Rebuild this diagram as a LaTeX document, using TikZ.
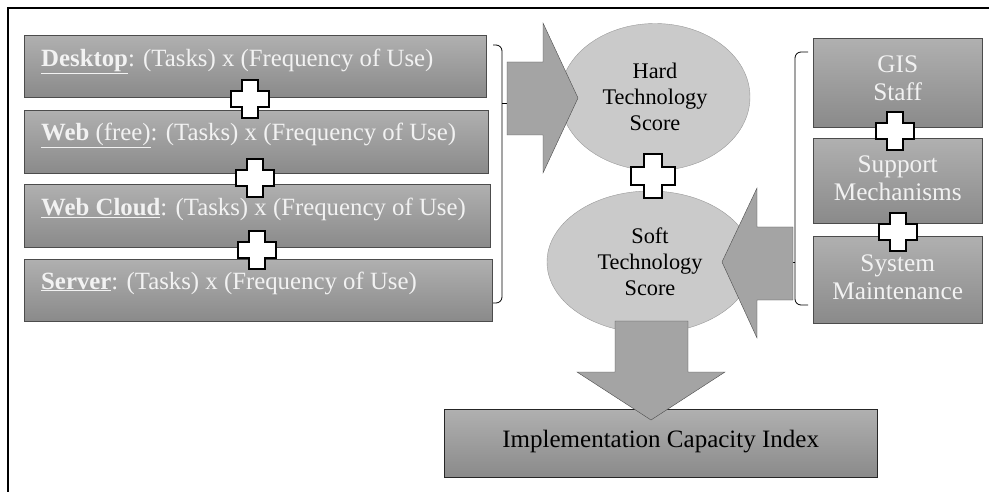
\documentclass[tikz,border=0pt]{standalone}
\usepackage{fontspec}
\setmainfont{Liberation Serif}
\usetikzlibrary{shapes.geometric,positioning}
\definecolor{boxtop}{HTML}{B0B0B0}
\definecolor{boxbot}{HTML}{8A8A8A}
\definecolor{ellfill}{HTML}{CACACA}
\definecolor{arrfill}{HTML}{A4A4A4}
\definecolor{lighttext}{HTML}{F2F2F2}
\tikzset{
x=1pt, y=-1pt, % pixel grid, y grows downwards
lbox/.style={draw=gray!60!black, thin, top color=boxtop, bottom color=boxbot, anchor=north west, inner sep=0pt}, % the grey boxes
ltext/.style={text=lighttext, anchor=base west, inner sep=0pt, font=\fontsize{24.8}{28}\selectfont}, % text in the left boxes
rtext/.style={text=lighttext, align=center, font=\fontsize{25.3}{28}\selectfont}, % text in the right boxes
score/.style={ellipse, draw=gray!80, fill=ellfill, align=center, inner sep=0pt, font=\fontsize{22.3}{26}\selectfont}, % the two scores
blockarr/.style={draw=gray!60!black, fill=arrfill, line join=miter}, % the fat arrows
brace/.style={draw=black, thick, rounded corners=6pt},
plus/.pic={\draw[line width=2pt, fill=white, line join=miter]
  (-8,-19) -- (8,-19) -- (8,-8) -- (19,-8) -- (19,8) -- (8,8) -- (8,19) -- (-8,19)
  -- (-8,8) -- (-19,8) -- (-19,-8) -- (-8,-8) -- cycle;}
}
\begin{document}
\begin{tikzpicture}
        \useasboundingbox (0,0) rectangle (989,492);
        \draw [line width=2pt] (8,492) -- (8,8) -- (989,8);
        % left column: technology uses
        \node [lbox, minimum width=462, minimum height=62] (desk) at (24,35) {};
        \node [lbox, minimum width=464, minimum height=63] (web) at (24,110) {};
        \node [lbox, minimum width=466, minimum height=63] (cloud) at (24,184) {};
        \node [lbox, minimum width=468, minimum height=62] (server) at (24,259) {};
        \node [ltext] (desktxt) at ([shift={(17pt,-32pt)}]desk.north west) {\underline{\textbf{Desktop}}: (Tasks) x (Frequency of Use)};
        \node [ltext] (webtxt) at ([shift={(17pt,-31pt)}]web.north west) {\underline{\textbf{Web} (free)}: (Tasks) x (Frequency of Use)};
        \node [ltext] (cloudtxt) at ([shift={(17pt,-31pt)}]cloud.north west) {\underline{\textbf{Web Cloud}}: (Tasks) x (Frequency of Use)};
        \node [ltext] (servertxt) at ([shift={(17pt,-30pt)}]server.north west) {\underline{\textbf{Server}}: (Tasks) x (Frequency of Use)};
        \pic at (250,99) {plus};
        \pic at (255,178) {plus};
        \pic at (257,250) {plus};
        % left brace
        \coordinate (lbtop) at (493,45);
        \coordinate (lbbot) at (493,303);
        \coordinate (lbtip) at (525,103);
        \draw [brace] (lbtop) -- (502,45) -- (502,303) -- (lbbot);
        \draw [thick] (502,103) -- (lbtip);
        % the two scores
        \node [score, minimum width=190, minimum height=147] (hard) at (655,97) {Hard\\Technology\\Score};
        \node [score, minimum width=206, minimum height=142] (soft) at (650,262) {Soft\\Technology\\Score};
        \pic [scale=1.15] at (653,176) {plus};
        \draw [blockarr] (507,62) -- (543,62) -- (543,23) -- (578,98) -- (543,173) -- (543,135) -- (507,135) -- cycle;
        % right column: staff and support
        \node [lbox, minimum width=169, minimum height=89] (gis) at (813,38) {};
        \node [lbox, minimum width=169, minimum height=85] (support) at (813,138) {};
        \node [lbox, minimum width=169, minimum height=87] (maint) at (813,236) {};
        \node [rtext] at ([yshift=4pt]gis) {GIS\\Staff};
        \node [rtext] at ([yshift=2pt]support) {Support\\Mechanisms};
        \node [rtext] at ([yshift=2pt]maint) {System\\Maintenance};
        \pic at (895,131) {plus};
        \pic at (898,232) {plus};
        % right brace
        \coordinate (rbtop) at (808,52);
        \coordinate (rbbot) at (808,305);
        \coordinate (rbtip) at (775,262);
        \draw [brace] (rbtop) -- (795,52) -- (795,305) -- (rbbot);
        \draw [thick] (795,262) -- (rbtip);
        \draw [blockarr] (793,227) -- (757,227) -- (757,188) -- (722,262) -- (757,338) -- (757,300) -- (793,300) -- cycle;
        % result
        \node [lbox, draw=gray!30!black, minimum width=433, minimum height=68] (index) at (444,409) {};
        \node [font=\fontsize{25}{28}\selectfont] (indextxt) at ([yshift=2pt]index.center) {Implementation Capacity Index};
        \draw [blockarr] (615,321) -- (688,321) -- (688,372) -- (725,372) -- (651,420) -- (577,372) -- (615,372) -- cycle;
        \end{tikzpicture}
\end{document}
